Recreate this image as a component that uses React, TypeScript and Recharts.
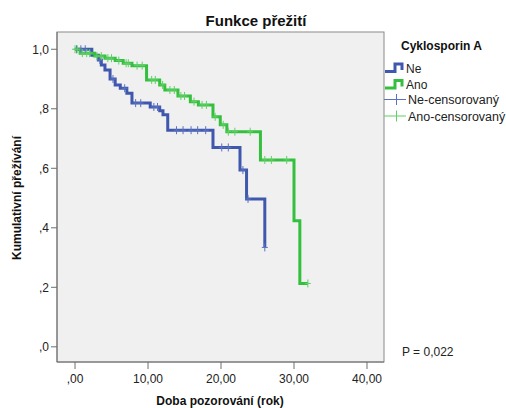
import React from 'react';
import { ComposedChart, Line, Scatter, XAxis, YAxis } from 'recharts';

// Kaplan-Meier steps: time (years) and cumulative survival
const neTimes = [0, 2.3, 3.2, 3.6, 4.1, 4.8, 5.5, 6.2, 7.1, 7.8, 10.3, 11.6, 12.05, 12.7, 18.9, 22.6, 23.5, 26.0];
const neSurv = [1.0, 0.98, 0.964, 0.947, 0.93, 0.9, 0.88, 0.869, 0.852, 0.819, 0.806, 0.793, 0.78, 0.728, 0.67, 0.594, 0.497, 0.334];

const anoTimes = [0, 0.7, 2.7, 4.1, 5.5, 6.6, 7.8, 9.8, 11.6, 12.3, 14.1, 15.8, 16.9, 18.9, 19.9, 20.8, 25.4, 30.0, 30.8, 31.9];
const anoSurv = [1.0, 0.987, 0.977, 0.97, 0.962, 0.953, 0.945, 0.897, 0.88, 0.863, 0.843, 0.824, 0.813, 0.773, 0.746, 0.723, 0.628, 0.424, 0.213, 0.213];

// censored observations (time)
const neCensored = [0.2, 0.8, 1.4, 3.4, 5.2, 6.8, 8.3, 9.0, 10.8, 11.3, 13.9, 14.8, 15.9, 16.8, 17.9, 20.1, 21.0, 23.0, 23.7, 26.0];
const anoCensored = [0, 0.3, 1.0, 1.6, 2.0, 3.0, 3.6, 4.5, 5.0, 6.0, 7.0, 7.3, 8.5, 9.2, 10.5, 11.0, 12.0, 13.0, 13.6, 14.5, 15.0, 16.3, 17.4, 18.0, 19.2, 20.3, 21.0, 21.9, 24.0, 26.0, 26.9, 29.0, 31.9];

const xTicks = [0, 10, 20, 30, 40];
const yTicks = [0, 0.2, 0.4, 0.6, 0.8, 1.0];

const BLUE = '#3f58ad';
const GREEN = '#34bf3e';

const steps = (times: number[], surv: number[]) => times.map((t, i) => ({ t, s: surv[i] }));

const survivalAt = (times: number[], surv: number[], t: number) => {
  let s = surv[0];
  for (let i = 0; i < times.length; i++) if (times[i] <= t) s = surv[i];
  return s;
};

const neData = steps(neTimes, neSurv);
const anoData = steps(anoTimes, anoSurv);
const neCens = neCensored.map(t => ({ t, s: survivalAt(neTimes, neSurv, t) }));
const anoCens = anoCensored.map(t => ({ t, s: survivalAt(anoTimes, anoSurv, t) }));

const fmtX = (v: number) => (v === 0 ? ',00' : v.toFixed(2).replace('.', ','));
const fmtY = (v: number) => v.toFixed(1).replace('.', ',').replace(/^0/, '');

const cross = (color: string) => (props: any) => {
  const { cx, cy } = props;
  return (
    <g stroke={color} strokeWidth={1}>
      <line x1={cx - 3} x2={cx + 3} y1={cy} y2={cy} />
      <line x1={cx} x2={cx} y1={cy - 4} y2={cy + 4} />
    </g>
  );
};

const font = 'Liberation Sans, Arial, sans-serif';

export default function App() {
  return (
    <div style={{ position: 'relative', width: 506, height: 408, background: '#fff', fontFamily: font }}>
      <style>{'body{margin:0}'}</style>
      <svg width={506} height={408} style={{ position: 'absolute', left: 0, top: 0 }}>
        <rect x={57} y={32} width={327} height={330} fill="#f0f0f0" stroke="#8a8a8a" strokeWidth={1} />
      </svg>
      <div style={{ position: 'absolute', left: 0, top: 0 }}>
        <ComposedChart width={506} height={408} margin={{ top: 32, right: 122, left: 0, bottom: 0 }}>
          <XAxis
            type="number"
            dataKey="t"
            domain={[-2.47, 42.33]}
            ticks={xTicks}
            tickFormatter={fmtX}
            height={46}
            allowDataOverflow
            stroke="#6e6e6e"
            tickSize={7}
            tickMargin={5}
            tick={{ fill: '#222', fontSize: 12, fontFamily: font }}
          />
          <YAxis
            type="number"
            dataKey="s"
            domain={[-0.051, 1.058]}
            ticks={yTicks}
            tickFormatter={fmtY}
            width={57}
            allowDataOverflow
            stroke="#6e6e6e"
            tickSize={6}
            tickMargin={2}
            tick={{ fill: '#222', fontSize: 12, fontFamily: font }}
          />
          <Line data={neData} dataKey="s" type="stepAfter" stroke={BLUE} strokeWidth={3} dot={false} isAnimationActive={false} />
          <Line data={anoData} dataKey="s" type="stepAfter" stroke={GREEN} strokeWidth={3} dot={false} isAnimationActive={false} />
          <Scatter data={neCens} dataKey="s" shape={cross('#5a72c0')} isAnimationActive={false} />
          <Scatter data={anoCens} dataKey="s" shape={cross('#5fd067')} isAnimationActive={false} />
        </ComposedChart>
      </div>
      <svg width={506} height={408} style={{ position: 'absolute', left: 0, top: 0, pointerEvents: 'none' }} fontFamily={font}>
        <text x={256} y={26} textAnchor="middle" fontSize={15} fontWeight="bold" fill="#111">Funkce přežití</text>
        <text x={220} y={405} textAnchor="middle" fontSize={12} fontWeight="bold" fill="#111">Doba pozorování (rok)</text>
        <text transform="translate(21,198) rotate(-90)" textAnchor="middle" fontSize={12} fontWeight="bold" fill="#111">Kumulativní přežívání</text>

        <text x={401} y={50} fontSize={12} fontWeight="bold" fill="#111">Cyklosporin A</text>
        <path d="M385 71.5 H395 V64 H402 V70" fill="none" stroke={BLUE} strokeWidth={3} />
        <text x={406} y={73} fontSize={12} fill="#222">Ne</text>
        <path d="M385 88 H395 V80.5 H402 V86.5" fill="none" stroke={GREEN} strokeWidth={3} />
        <text x={406} y={89} fontSize={12} fill="#222">Ano</text>
        <line x1={384} x2={406} y1={99.5} y2={99.5} stroke="#5a72c0" strokeWidth={1} />
        <line x1={396.5} x2={396.5} y1={94} y2={105} stroke="#5a72c0" strokeWidth={1} />
        <text x={408} y={104} fontSize={12.5} fill="#222">Ne-censorovaný</text>
        <line x1={384} x2={406} y1={116} y2={116} stroke="#5fd067" strokeWidth={1} />
        <line x1={396.5} x2={396.5} y1={110.5} y2={121.5} stroke="#5fd067" strokeWidth={1} />
        <text x={408} y={121} fontSize={12.5} fill="#222">Ano-censorovaný</text>

        <text x={402} y={356} fontSize={12} fill="#222">P = 0,022</text>
      </svg>
    </div>
  );
}
